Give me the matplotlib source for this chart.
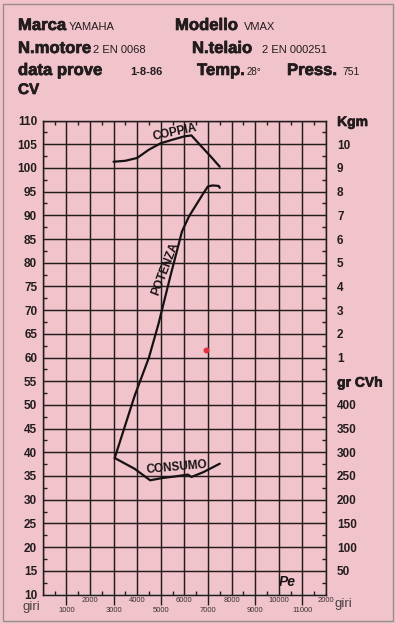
import numpy as np
import matplotlib.pyplot as plt
import matplotlib.patheffects as pe
from matplotlib import font_manager
from matplotlib.patches import Rectangle

coppia_rpm = [3000, 3500, 4000, 4500, 5000, 5500, 6000, 6300, 6700, 7100, 7500]
coppia_kgm = [9.26, 9.3, 9.42, 9.77, 10.04, 10.19, 10.33, 10.37, 9.93, 9.5, 9.05]

potenza_rpm = [3050, 3900, 4500, 4900, 5400, 5900, 6200, 6500, 6800, 7000, 7200, 7450, 7500]
potenza_cv = [38.8, 52.0, 60.0, 67.0, 77.0, 86.6, 89.8, 92.2, 94.6, 96.1, 96.3, 96.2, 95.8]

consumo_rpm = [3050, 3900, 4550, 5100, 5600, 6150, 6300, 6800, 7500]
consumo_gr = [288, 265, 241, 246, 249, 253, 248, 258, 276]

punto_rosso = (6900, 61.6)

cv_ticks = list(range(10, 111, 5))
kgm_ticks = list(range(1, 11))
gr_ticks = list(range(50, 401, 50))
giri_dispari = [1000, 3000, 5000, 7000, 9000, 11000]
giri_pari = [2000, 4000, 6000, 8000, 10000, 12000]
giri_pari_lab = ['2000', '4000', '6000', '8000', '10000', '2000']


# scale di destra riportate sulla scala CV
def kgm_to_cv(k):
    return np.asarray(k) * 5 + 55


def gr_to_cv(g):
    return np.asarray(g) / 10 + 10


PINK = '#f1c4cc'
INK = '#231c1d'
W, H = 396, 624
FAT = [pe.withStroke(linewidth=0.5, foreground=INK)]

names = {f.name for f in font_manager.fontManager.ttflist}
SANS = 'Liberation Sans' if 'Liberation Sans' in names else 'DejaVu Sans'
plt.rcParams['font.family'] = [SANS, 'DejaVu Sans']


def fx(px):
    return px / W


def fy(py):
    return 1 - py / H


fig = plt.figure(figsize=(W / 100, H / 100), dpi=100, facecolor=PINK)
ax = fig.add_axes([fx(42.7), fy(594.5), fx(326) - fx(42.7), fy(120.5) - fy(594.5)])
ax.set_facecolor(PINK)
ax.set_xlim(0, 12000)
ax.set_ylim(10, 110)

# griglia
ax.set_xticks(range(0, 12001, 1000))
ax.set_xticklabels([])
ax.set_yticks(cv_ticks)
ax.set_yticklabels([str(v) for v in cv_ticks], fontsize=8.5, fontweight='bold', color=INK)
ax.grid(True, color=INK, lw=1.05)
ax.tick_params(which='major', length=0)
ax.tick_params(axis='y', which='major', pad=4)
ax.set_xticks(np.arange(500, 12000, 1000), minor=True)
ax.set_yticks(np.arange(12.5, 110, 5), minor=True)
ax.tick_params(axis='x', which='minor', direction='in', length=3, width=1,
               top=True, bottom=True, color=INK)
ax.tick_params(axis='y', which='minor', direction='in', length=3, width=1,
               left=True, right=True, color=INK)
for s in ax.spines.values():
    s.set_color(INK)
    s.set_linewidth(1.05)

# etichette giri
sec1 = ax.secondary_xaxis('bottom')
sec1.set_xticks(giri_dispari, labels=[str(v) for v in giri_dispari])
sec1.tick_params(length=7.5, width=1, color=INK, pad=1.5, labelsize=5.5, labelcolor='#3a3030')
sec2 = ax.secondary_xaxis('bottom')
sec2.set_xticks(giri_pari, labels=giri_pari_lab)
sec2.tick_params(length=0, pad=1.5, labelsize=5.5, labelcolor='#3a3030')
for sec in (sec1, sec2):
    for s in sec.spines.values():
        s.set_visible(False)

# scale Kgm e gr CVh a destra
rpos = [110] + list(kgm_to_cv(kgm_ticks[::-1])) + [55] + list(gr_to_cv(gr_ticks[::-1]))
rlab = ['Kgm'] + [str(v) for v in kgm_ticks[::-1]] + ['gr CVh'] + [str(v) for v in gr_ticks[::-1]]
secy = ax.secondary_yaxis('right')
secy.set_yticks(rpos, labels=rlab)
secy.tick_params(length=0, pad=8, labelsize=8.5, labelcolor=INK)
for s in secy.spines.values():
    s.set_visible(False)
for t in secy.get_yticklabels():
    t.set_fontweight('bold')
    if t.get_text() in ('Kgm', 'gr CVh'):
        t.set_fontsize(10)
        t.set_path_effects(FAT)

# curve
ax.plot(coppia_rpm, kgm_to_cv(coppia_kgm), color='#161213', lw=1.6, solid_capstyle='round')
ax.plot(potenza_rpm, potenza_cv, color='#161213', lw=1.6, solid_capstyle='round')
ax.plot(consumo_rpm, gr_to_cv(consumo_gr), color='#161213', lw=1.6, solid_capstyle='round')
ax.plot(*punto_rosso, 'o', color='#e3303c', ms=4.3, mec='none')

lab = dict(fontsize=8.5, fontweight='bold', color='#161213', ha='center', va='center',
           rotation_mode='anchor')
ax.text(5600, 107.4, 'COPPIA', rotation=12, **lab)
ax.text(5180, 78.7, 'POTENZA', rotation=69, **lab)
ax.text(5680, 36.8, 'CONSUMO', rotation=5, **lab)
ax.text(10370, 12.6, 'Pe', fontsize=10, fontweight='bold', fontstyle='italic',
        color='#161213', ha='center', va='center')


# intestazione
def head(px, py, s, size=12, weight='bold', fat=True):
    t = fig.text(fx(px), fy(py), s, fontsize=size, fontweight=weight, color=INK,
                 ha='left', va='baseline')
    if fat:
        t.set_path_effects(FAT)


head(18, 30, 'Marca')
head(69, 30, 'YAMAHA', 8, 'normal', False)
head(175, 30, 'Modello')
head(244, 30, 'VMAX', 8, 'normal', False)
head(18, 53, 'N.motore')
head(93, 53, '2 EN 0068', 8, 'normal', False)
head(192, 53, 'N.telaio')
head(262, 53, '2 EN 000251', 8, 'normal', False)
head(18, 75, 'data prove')
head(130, 75, '1-8-86', 8, 'bold', False)
head(197, 75, 'Temp.')
head(247, 75, '28°', 7, 'normal', False)
head(287, 75, 'Press.')
head(342, 75, '751', 7.5, 'normal', False)
head(18, 94, 'CV', 11)

fig.text(fx(31), fy(607), 'giri', fontsize=9.5, color='#4a4040', ha='center', va='center')
fig.text(fx(343), fy(604), 'giri', fontsize=9.5, color='#4a4040', ha='center', va='center')

fig.patches.append(Rectangle((fx(3), fy(621)), fx(393) - fx(3), fy(4) - fy(621),
                             transform=fig.transFigure, fill=False,
                             edgecolor='#9a8c8e', lw=1.0))

fig.savefig('out.png', dpi=100, facecolor=fig.get_facecolor())
